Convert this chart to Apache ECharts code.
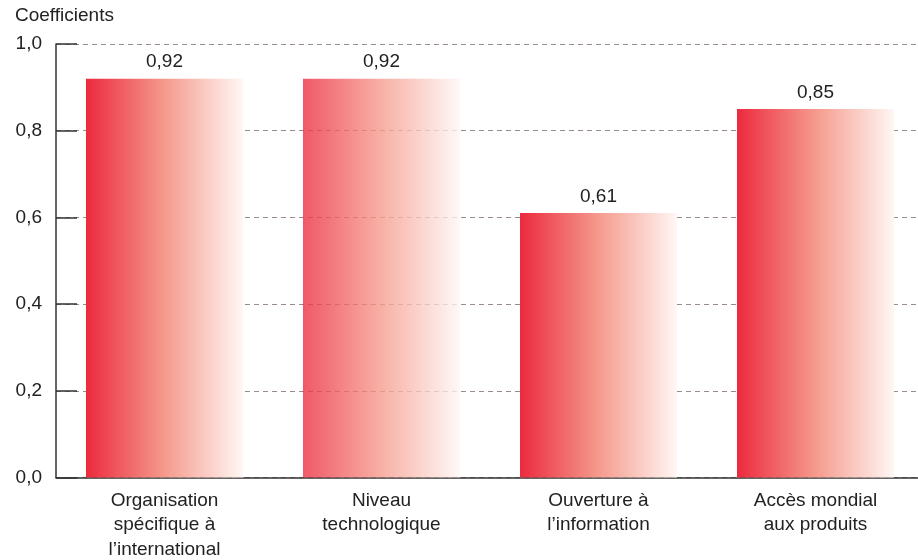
<!DOCTYPE html>
<html><head><meta charset="utf-8">
<script src="https://cdn.jsdelivr.net/npm/echarts@6/dist/echarts.min.js"></script>
<style>html,body{margin:0;padding:0;background:#fff}#c{width:918px;height:560px}</style>
</head><body><div id="c"></div>
<script>
const categories = ["Organisation\nspécifique à\nl’international", "Niveau\ntechnologique", "Ouverture à\nl’information", "Accès mondial\naux produits"];
const values = [0.92, 0.92, 0.61, 0.85];
const barAlpha = [1, 0.78, 1, 1];
const yTicks = [0, 0.2, 0.4, 0.6, 0.8, 1.0];

const FONT = 'Liberation Sans, Arial, sans-serif';
const chart = echarts.init(document.getElementById('c'));
chart.setOption({
  animation: false,
  textStyle: { fontFamily: FONT },
  grid: { left: 56, width: 868, top: 44, height: 433.5, containLabel: false, outerBoundsMode: 'none' },
  graphic: [{ type: 'text', left: 15, top: 6, style: { text: 'Coefficients', font: '19px ' + FONT, fill: '#222' } }],
  xAxis: {
    type: 'category', data: categories,
    axisLine: { lineStyle: { color: '#333', width: 1.5 } },
    axisTick: { inside: true, length: 10, lineStyle: { color: '#333', width: 1.2 } },
    axisLabel: { color: '#222', fontSize: 19, lineHeight: 24.5, margin: 11 }
  },
  yAxis: {
    type: 'value', min: 0, max: 1, interval: 0.2,
    axisLine: { show: true, lineStyle: { color: '#333', width: 1.5 } },
    axisTick: { show: true, inside: true, length: 21, lineStyle: { color: '#333', width: 1.5 } },
    axisLabel: { color: '#222', fontSize: 19, margin: 14, formatter: v => v.toFixed(1).replace('.', ',') },
    splitLine: { show: true, lineStyle: { color: '#9a8c8c', type: [5, 4], width: 1 } }
  },
  series: [{
    type: 'bar', barWidth: 157,
    data: values.map((v, i) => ({
      value: v,
      itemStyle: { color: new echarts.graphic.LinearGradient(0, 0, 1, 0, [
        { offset: 0, color: `rgba(236,42,62,${barAlpha[i]})` },
        { offset: 0.5, color: `rgba(245,154,140,${barAlpha[i]})` },
        { offset: 1, color: `rgba(255,247,244,${barAlpha[i]})` }
      ]) }
    })),
    label: { show: true, position: 'top', distance: 7, color: '#222', fontSize: 19,
      formatter: p => p.value.toFixed(2).replace('.', ',') }
  }]
});
</script></body></html>
